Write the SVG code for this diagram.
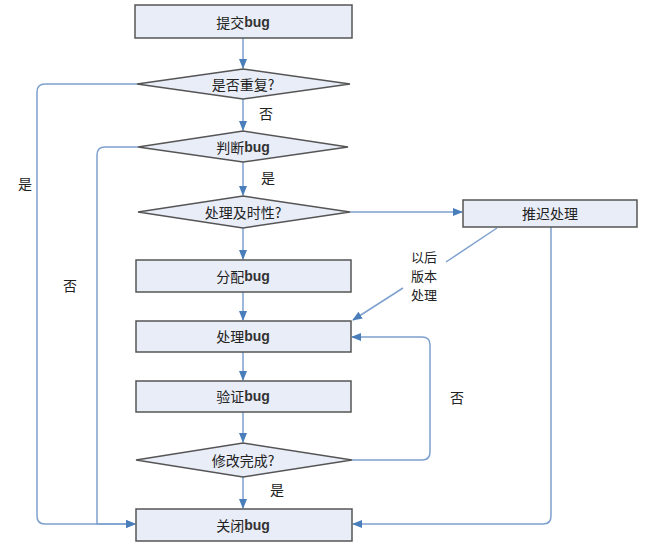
<svg xmlns="http://www.w3.org/2000/svg" width="656" height="547" viewBox="0 0 656 547">
<defs>
<marker id="a" markerWidth="10" markerHeight="8" refX="9" refY="4" orient="auto" markerUnits="userSpaceOnUse"><path d="M0,0 L10,4 L0,8 z" fill="#4a7ebb"/></marker>
<style>
.n{fill:#e9edf8;stroke:#555;stroke-width:1.5}
.c{fill:none;stroke:#7ea0cf;stroke-width:1.5}
.t{font-family:"Noto Sans CJK SC","Liberation Serif",serif;font-size:14px;fill:#222;text-anchor:middle;dominant-baseline:central}
.s{font-size:13px}
.b{font-family:"Liberation Sans","Noto Sans CJK SC",sans-serif;font-weight:bold;fill:#333}
</style>
</defs>
<rect width="656" height="547" fill="#fff"/>
<g id="connectors">
<path class="c" d="M243,38 V68" marker-end="url(#a)"/>
<path class="c" d="M243,99 V130" marker-end="url(#a)"/>
<path class="c" d="M243,162 V195" marker-end="url(#a)"/>
<path class="c" d="M243,228 V259" marker-end="url(#a)"/>
<path class="c" d="M243,292 V320" marker-end="url(#a)"/>
<path class="c" d="M243,352 V380" marker-end="url(#a)"/>
<path class="c" d="M243,412 V442" marker-end="url(#a)"/>
<path class="c" d="M243,477 V508" marker-end="url(#a)"/>
<path class="c" d="M350,212 H462" marker-end="url(#a)"/>
<path class="c" d="M137,84 H45 Q37,84 37,92 V516 Q37,524 45,524 H135" marker-end="url(#a)"/>
<path class="c" d="M138,147 H105 Q97,147 97,155 V524 H135" marker-end="url(#a)"/>
<path class="c" d="M551,227 V516 Q551,524 543,524 H353" marker-end="url(#a)"/>
<path class="c" d="M497,228 L446,262"/>
<path class="c" d="M403,288 L353,320" marker-end="url(#a)"/>
<path class="c" d="M352,460 H422 Q430,460 430,452 V345 Q430,337 422,337 H352" marker-end="url(#a)"/>
</g>
<g id="n1"><rect class="n" x="135" y="5" width="217" height="33"/><text class="t" x="243" y="22">提交<tspan class="b">bug</tspan></text></g>
<g id="n2"><polygon class="n" points="137,84 243,69 350,84 243,99"/><text class="t" x="243" y="84">是否重复?</text></g>
<g id="n3"><polygon class="n" points="138,147 243,131 348,147 243,162"/><text class="t" x="243" y="147">判断<tspan class="b">bug</tspan></text></g>
<g id="n4"><polygon class="n" points="138,212 243,196 350,212 243,228"/><text class="t" x="243" y="212">处理及时性?</text></g>
<g id="n5"><rect class="n" x="463" y="200" width="174" height="27"/><text class="t" x="550" y="213">推迟处理</text></g>
<g id="n6"><rect class="n" x="136" y="260" width="215" height="32"/><text class="t" x="243" y="276">分配<tspan class="b">bug</tspan></text></g>
<g id="n7"><rect class="n" x="136" y="321" width="215" height="31"/><text class="t" x="243" y="336">处理<tspan class="b">bug</tspan></text></g>
<g id="n8"><rect class="n" x="136" y="381" width="215" height="31"/><text class="t" x="243" y="396">验证<tspan class="b">bug</tspan></text></g>
<g id="n9"><polygon class="n" points="136,460 243,443 352,460 243,477"/><text class="t" x="243" y="460">修改完成?</text></g>
<g id="n10"><rect class="n" x="136" y="509" width="216" height="32"/><text class="t" x="243" y="525">关闭<tspan class="b">bug</tspan></text></g>
<g id="labels">
<text class="t" x="266" y="113">否</text>
<text class="t" x="268" y="177">是</text>
<text class="t" x="25" y="183">是</text>
<text class="t" x="70" y="285">否</text>
<text class="t" x="277" y="489">是</text>
<text class="t" x="457" y="397">否</text>
<text class="t s" x="424" y="256">以后</text>
<text class="t s" x="424" y="275">版本</text>
<text class="t s" x="424" y="294">处理</text>
</g>
</svg>
